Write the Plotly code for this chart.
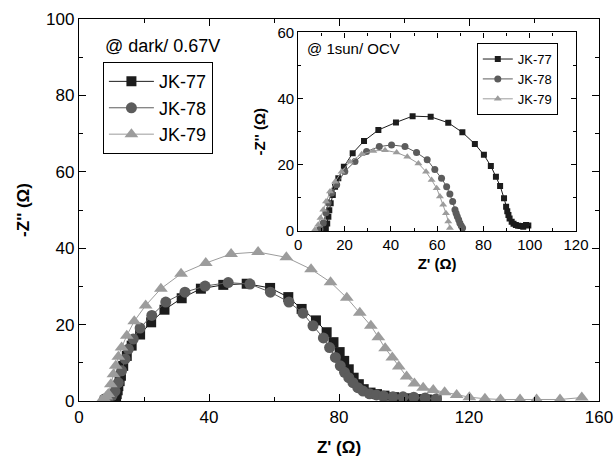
import plotly.graph_objects as go

# ---- main panel: dark / 0.67V ----
main_jk77_x = [11.1, 11.4, 11.6, 11.9, 12.1, 12.5, 12.9, 13.6, 14.7, 16.2, 18.8, 22.2, 26.3, 31.6, 37.5, 44.4,
               51.6, 58.8, 64.4, 68.5, 72.9, 76.2, 78.3, 80.2, 81.6, 83.0, 84.5, 86.1, 87.6, 89.7, 91.7,
               94.0, 97.0, 101.0, 104.0, 107.0, 110.0]
main_jk77_y = [0.2, 1.0, 1.8, 2.8, 3.9, 5.2, 6.6, 9.2, 11.8, 14.5, 17.4, 20.6, 23.9, 26.9, 29.4, 30.4,
               30.7, 29.6, 27.2, 24.1, 21.1, 18.0, 15.4, 12.8, 10.5, 8.3, 6.1, 4.4, 3.1, 2.2, 1.8,
               1.4, 1.0, 0.7, 0.5, 0.4, 0.3]

main_jk78_x = [7.8, 9.0, 10.2, 11.1, 12.1, 13.1, 14.2, 15.2, 16.7, 18.8, 22.4, 26.7, 32.6, 38.8, 45.9,
               52.6, 58.9, 64.6, 68.9, 72.0, 75.2, 77.1, 78.9, 80.4, 81.7, 83.0, 84.3, 85.8, 87.4, 89.4,
               91.5, 93.7, 96.6, 99.7, 103.0, 106.5, 110.0]
main_jk78_y = [0.5, 0.8, 1.5, 2.6, 4.8, 7.9, 11.0, 13.6, 16.2, 19.1, 22.4, 25.9, 28.5, 30.1, 31.0,
               30.6, 28.5, 25.9, 23.0, 19.7, 16.5, 14.0, 11.4, 9.2, 7.5, 6.1, 4.8, 3.5, 2.6, 1.9,
               1.6, 1.3, 1.1, 1.1, 1.0, 0.8, 0.6]

main_jk79_x = [7.0, 7.8, 8.4, 9.0, 9.8, 10.6, 11.3, 12.1, 13.1, 14.7, 17.0, 20.5, 25.2, 31.4, 39.0, 46.8,
               55.1, 63.8, 71.4, 77.4, 82.4, 86.4, 89.8, 92.1, 94.2, 96.4, 98.4, 100.8, 103.2, 105.9,
               109.0, 112.5, 116.2, 120.1, 124.9, 129.7, 135.7, 140.8, 148.0, 154.7]
main_jk79_y = [0.2, 0.6, 1.2, 1.8, 4.4, 7.0, 9.2, 11.6, 14.0, 17.1, 20.9, 25.0, 29.4, 33.3, 36.1, 38.5,
               39.0, 37.6, 34.5, 31.1, 27.0, 23.1, 19.7, 16.7, 13.8, 11.4, 9.0, 6.4, 4.6, 3.5,
               2.9, 2.3, 1.6, 1.0, 0.6, 0.4, 0.4, 0.4, 0.4, 0.9]

# ---- inset: 1sun / OCV ----
ins_jk77_x = [11.9, 12.5, 13.0, 13.4, 14.0, 14.9, 15.9, 17.3, 19.7, 23.5, 28.4, 34.6, 42.2, 49.4, 57.2,
              64.8, 70.9, 76.3, 80.2, 83.2, 85.4, 87.2, 88.9, 89.8, 90.3, 90.8, 91.3, 92.2, 93.0, 94.0,
              95.0, 96.0, 97.2, 98.4, 99.4]
ins_jk77_y = [0.8, 2.3, 4.3, 6.3, 8.4, 10.9, 13.4, 15.9, 19.4, 23.5, 27.2, 30.5, 32.8, 34.7, 34.5,
              32.7, 29.8, 26.3, 23.0, 19.6, 16.4, 13.6, 9.9, 7.3, 6.0, 4.8, 3.8, 2.8, 2.2, 1.8,
              1.6, 1.5, 1.3, 1.8, 1.7]

ins_jk78_x = [9.4, 10.8, 11.9, 12.9, 14.4, 16.6, 20.1, 24.5, 29.5, 35.0, 40.3, 46.1, 51.1, 55.7, 59.0,
              61.9, 64.1, 65.5, 66.7, 67.7, 68.2, 68.7, 69.3, 69.8, 70.4, 71.0]
ins_jk78_y = [0.6, 2.4, 5.5, 8.5, 11.5, 14.0, 18.0, 21.0, 24.0, 25.5, 26.0, 25.5, 23.7, 21.5, 18.6,
              15.9, 13.4, 11.2, 8.9, 6.4, 5.4, 4.4, 3.4, 2.4, 1.6, 0.9]

ins_jk79_x = [7.2, 8.6, 9.6, 10.8, 12.0, 13.7, 15.9, 18.7, 22.3, 27.4, 32.4, 37.5, 42.5, 47.1, 51.9,
              55.2, 57.6, 59.8, 61.2, 62.6, 63.8, 64.8, 65.5]
ins_jk79_y = [0.4, 1.9, 3.9, 6.4, 8.9, 11.9, 14.9, 17.9, 20.9, 23.2, 24.2, 24.4, 23.7, 22.4, 20.4,
              17.9, 15.4, 12.9, 10.4, 7.9, 5.4, 2.9, 0.9]

names = ["JK-77", "JK-78", "JK-79"]
colors = ["#1c1c1c", "#5c5c5c", "#9c9c9c"]
symbols = ["square", "circle", "triangle-up"]
main_sizes = [10, 11, 12]
ins_sizes = [6, 7, 7]

FONT = "Liberation Sans, Arial, sans-serif"

fig = go.Figure()

main_data = [(main_jk77_x, main_jk77_y), (main_jk78_x, main_jk78_y), (main_jk79_x, main_jk79_y)]
ins_data = [(ins_jk77_x, ins_jk77_y), (ins_jk78_x, ins_jk78_y), (ins_jk79_x, ins_jk79_y)]

for i, (xs, ys) in enumerate(main_data):
    fig.add_trace(go.Scatter(
        x=xs, y=ys, name=names[i], mode="lines+markers",
        line=dict(color=colors[i], width=1),
        marker=dict(symbol=symbols[i], size=main_sizes[i], color=colors[i]),
        xaxis="x", yaxis="y", legend="legend"))

for i, (xs, ys) in enumerate(ins_data):
    fig.add_trace(go.Scatter(
        x=xs, y=ys, name=names[i], mode="lines+markers",
        line=dict(color=colors[i], width=1),
        marker=dict(symbol=symbols[i], size=ins_sizes[i], color=colors[i]),
        xaxis="x2", yaxis="y2", legend="legend2"))

axis_common = dict(showline=True, linecolor="black", linewidth=1.3, mirror="ticks",
                   ticks="inside", tickcolor="black", showgrid=False, zeroline=False,
                   automargin=False)

fig.update_layout(
    width=616, height=457,
    margin=dict(l=79, r=17, t=19, b=56),
    paper_bgcolor="white", plot_bgcolor="white",
    font=dict(family=FONT, color="black"),
    xaxis=dict(domain=[0, 1], range=[0, 160], dtick=40, ticklen=7, tickwidth=1,
               minor=dict(dtick=20, ticklen=4, ticks="inside", tickcolor="black"),
               tickfont=dict(size=17),
               title=dict(text="<b>Z' (Ω)</b>", font=dict(size=17), standoff=18),
               **axis_common),
    yaxis=dict(domain=[0, 1], range=[0, 100], dtick=20, ticklen=7, tickwidth=1,
               minor=dict(dtick=10, ticklen=4, ticks="inside", tickcolor="black"),
               tickfont=dict(size=17),
               title=dict(text="<b>-Z'' (Ω)</b>", font=dict(size=17), standoff=12),
               **axis_common),
    xaxis2=dict(domain=[0.4217, 0.9558], anchor="y2", range=[0, 120], dtick=20, ticklen=5, tickwidth=1,
                minor=dict(dtick=10, ticklen=3, ticks="inside", tickcolor="black"),
                tickfont=dict(size=15),
                title=dict(text="<b>Z' (Ω)</b>", font=dict(size=15), standoff=6),
                **axis_common),
    yaxis2=dict(domain=[0.445, 0.965], anchor="x2", range=[0, 60], dtick=20, ticklen=5, tickwidth=1,
                minor=dict(dtick=10, ticklen=3, ticks="inside", tickcolor="black"),
                tickfont=dict(size=15),
                title=dict(text="<b>-Z'' (Ω)</b>", font=dict(size=15), standoff=8),
                **axis_common),
    legend=dict(x=0.046, y=0.887, xanchor="left", yanchor="top",
                bordercolor="black", borderwidth=1, bgcolor="white",
                font=dict(size=18), itemwidth=45, tracegroupgap=0),
    legend2=dict(x=0.765, y=0.937, xanchor="left", yanchor="top",
                 bordercolor="black", borderwidth=1, bgcolor="white",
                 font=dict(size=13), itemwidth=30, tracegroupgap=0),
    annotations=[
        dict(text="@ dark/ 0.67V", xref="paper", yref="paper", x=0.046, y=0.93,
             xanchor="left", yanchor="middle", showarrow=False, font=dict(size=18)),
        dict(text="@ 1sun/ OCV", xref="x2 domain", yref="y2 domain", x=0.025, y=0.92,
             xanchor="left", yanchor="middle", showarrow=False, font=dict(size=15)),
    ],
)

fig.write_html("out.html", config={"displayModeBar": False},
               post_script="document.body.style.margin='0';document.body.style.overflow='hidden';")
